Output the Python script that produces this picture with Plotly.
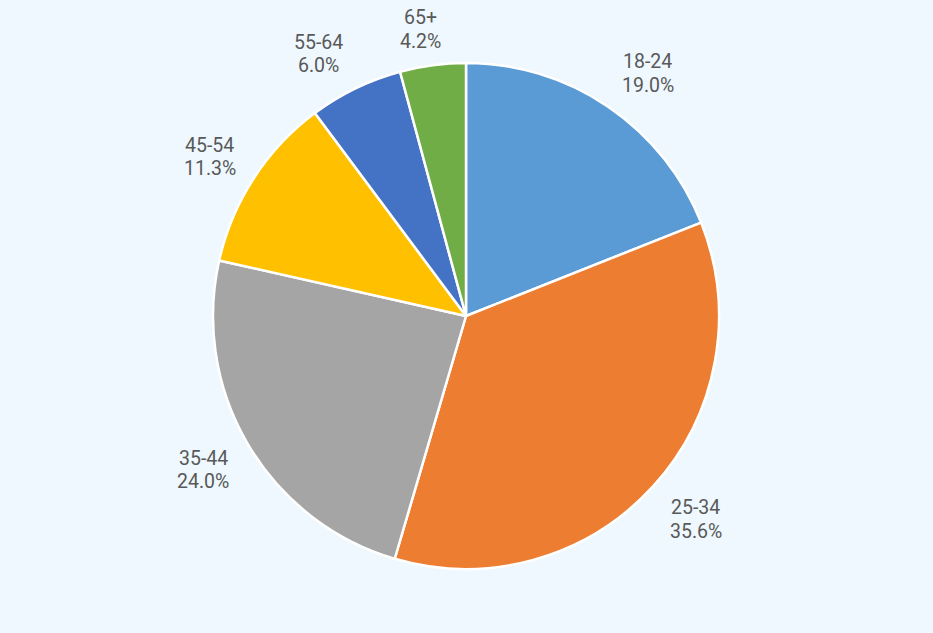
import math
import plotly.graph_objects as go

labels = ["18-24", "25-34", "35-44", "45-54", "55-64", "65+"]
values = [19.0, 35.6, 24.0, 11.3, 6.0, 4.2]
colors = ["#5B9BD5", "#ED7D31", "#A5A5A5", "#FFC000", "#4472C4", "#70AD47"]

W, H = 933, 633
cx, cy, R = 466, 316, 253

fig = go.Figure(go.Pie(
    labels=labels, values=values, sort=False, direction="clockwise", rotation=0,
    marker=dict(colors=colors, line=dict(color="white", width=2.5)),
    textinfo="none", hoverinfo="label+percent", showlegend=False,
    domain=dict(x=[(cx - R) / W, (cx + R) / W], y=[1 - (cy + R) / H, 1 - (cy - R) / H]),
))

font = dict(family="Roboto", size=19.5, color="#595959")
total = sum(values)
cum = 0.0
ann = []
for lab, v in zip(labels, values):
    mid = (cum + v / 2) / total * 2 * math.pi
    cum += v
    s, c = math.sin(mid), math.cos(mid)
    ra = R + 17
    offx = math.copysign(30 * min(1, abs(s) / 0.4), s)
    offy = -math.copysign(22 * min(1, abs(c) / 0.8), c)
    x = cx + ra * s + offx
    y = cy - ra * c + offy + 3
    for txt, dy in ((lab, -11.7), (f"{v:.1f}%", 11.7)):
        ann.append(dict(x=x / W, y=1 - (y + dy) / H, xref="paper", yref="paper",
                        text=txt, showarrow=False, font=font,
                        xanchor="center", yanchor="middle"))

fig.update_layout(
    width=W, height=H, margin=dict(l=0, r=0, t=0, b=0),
    paper_bgcolor="#EEF8FE", plot_bgcolor="#EEF8FE",
    annotations=ann,
)
fig.write_html("out.html")
